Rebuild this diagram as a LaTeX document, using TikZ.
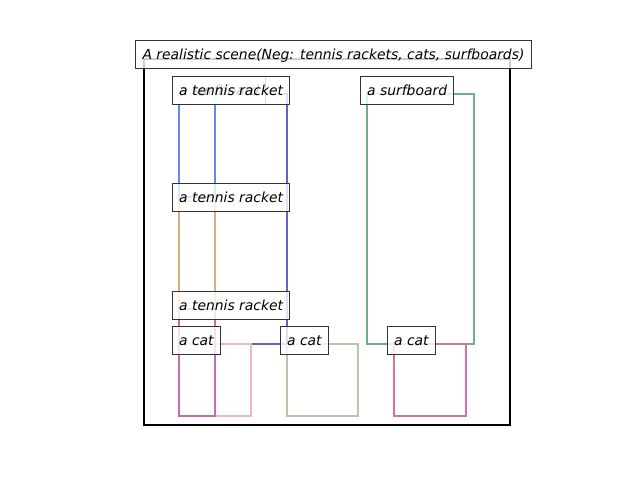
\documentclass[tikz,border=0pt]{standalone}
\usepackage{fontspec}
\setmainfont{DejaVu Sans}
\begin{document}
\begin{tikzpicture}[x=0.72pt,y=-0.72pt,
  lbl/.style={draw=black!80, line width=0.72pt, fill=white, fill opacity=0.8, text opacity=1,
    font=\fontsize{10pt}{12pt}\selectfont\itshape, inner xsep=4.8pt, inner ysep=0pt,
    minimum height=20.16pt, text height=8.6pt, text depth=1.4pt, anchor=west},
  bbox/.style={line width=1.7pt},
  frame/.style={line width=1.7pt, draw=black}]
\definecolor{cblue}{HTML}{6388EC}
\definecolor{cpurple}{HTML}{6464C2}
\definecolor{corange}{HTML}{E2AA7C}
\definecolor{cmagenta}{HTML}{C86AAC}
\definecolor{clpink}{HTML}{E8BCBC}
\definecolor{cgraygreen}{HTML}{BCC4AC}
\definecolor{cpink}{HTML}{D4729C}
\definecolor{cgreen}{HTML}{72AE8A}
\useasboundingbox[fill=white] (0,0) rectangle (640,480);
\draw[frame] (144,59) rectangle (510,425);
% boxes
\draw[bbox, cpurple] (179,94) rectangle (287,344);
\draw[bbox, cblue] (179,94) rectangle (215,197);
\draw[bbox, corange] (179,201) rectangle (215,309);
\draw[bbox, clpink] (179,344) rectangle (251,416);
\draw[bbox, cmagenta] (179,309) rectangle (215,416);
\draw[bbox, cgraygreen] (287,344) rectangle (358,416);
\draw[bbox, cgreen] (367,94) rectangle (474,344);
\draw[bbox, cpink] (394,344) rectangle (466,416);
% labels
\node[lbl] (l1) at (172,90) {a surfboard};
\node[lbl] (l2) at (172,90) {a tennis racket};
\node[lbl] (l3) at (172,197) {a tennis racket};
\node[lbl] (l4) at (172,305) {a tennis racket};
\node[lbl] (l5) at (172,340) {a cat};
\node[lbl] (l6) at (280,340) {a cat};
\node[lbl] (l7) at (360,90) {a surfboard};
\node[lbl] (l8) at (387,340) {a cat};
% title
\node[lbl, anchor=center] (title) at (333.5,54) {A realistic scene(Neg: tennis rackets, cats, surfboards)};
\end{tikzpicture}
\end{document}
